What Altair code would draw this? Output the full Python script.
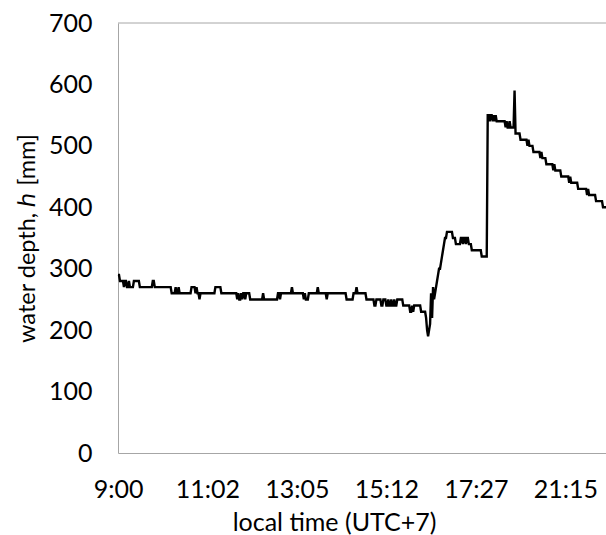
import altair as alt
import pandas as pd

# Category axis: samples are equally spaced, labelled every 90 samples
tick_idx = [0, 90, 180, 270, 360, 450]
tick_time = ["9:00", "11:02", "13:05", "15:12", "17:27", "21:15"]
last_idx = 491

# Sample index at which the logged depth changes, and the new depth [mm]
change_idx = [
    0, 2, 6, 7, 9, 11, 12, 16, 22, 35, 37, 54, 58, 59, 61, 62, 74, 78, 79, 80,
    82, 83, 98, 104, 120, 121, 122, 124, 125, 126, 128, 129, 133, 146, 147,
    161, 163, 164, 175, 176, 187, 188, 189, 192, 201, 202, 210, 211, 230, 237,
    240, 241, 250, 258, 260, 265, 267, 270, 272, 273, 275, 276, 278, 279, 281,
    287, 294, 296, 297, 298, 305, 310, 311, 312, 313, 314, 315, 316, 317, 318,
    319, 320, 321, 322, 323, 325, 326, 327, 328, 329, 331, 337, 340, 345, 347,
    348, 350, 351, 353, 356, 366, 372, 374, 375, 377, 378, 379, 380, 381, 390,
    391, 392, 394, 395, 399, 400, 405, 412, 413, 414, 418, 425, 426, 427, 431,
    438, 439, 440, 446, 454, 455, 456, 463, 472, 473, 474, 481, 488,
]
depth_mm = [
    290, 280, 270, 280, 270, 280, 270, 280, 270, 280, 270, 260, 270, 260, 270,
    260, 270, 260, 270, 260, 250, 260, 270, 260, 250, 260, 250, 260, 250, 260,
    250, 260, 250, 260, 250, 260, 250, 260, 270, 260, 250, 260, 250, 260, 270,
    260, 250, 260, 250, 260, 270, 260, 250, 240, 250, 240, 250, 240, 250, 240,
    250, 240, 250, 240, 250, 240, 230, 240, 230, 240, 230, 220, 200, 190, 200,
    210, 260, 220, 270, 250, 260, 270, 280, 290, 300, 310, 320, 330, 340, 350,
    360, 350, 340, 350, 340, 350, 340, 350, 340, 330, 320, 550, 540, 550, 540,
    550, 540, 550, 540, 530, 540, 530, 540, 530, 590, 520, 510, 500, 510, 500,
    490, 480, 490, 480, 470, 460, 470, 460, 450, 440, 450, 440, 430, 420, 430,
    420, 410, 400,
]

# Expand the change points into one value per sample
samples, depths = [], []
k = 0
for i in range(last_idx + 1):
    while k + 1 < len(change_idx) and change_idx[k + 1] <= i:
        k += 1
    samples.append(i)
    depths.append(depth_mm[k])
df = pd.DataFrame({"sample": samples, "depth": depths})

label_expr = "[{}][indexof([{}], datum.value)]".format(
    ",".join("'{}'".format(t) for t in tick_time),
    ",".join(str(t) for t in tick_idx),
)

font = "Lato"
axis_grey = "#a6a6a6"

x_enc = alt.X(
    "sample:Q",
    scale=alt.Scale(domain=[0, last_idx], nice=False, zero=False),
    axis=alt.Axis(
        values=tick_idx,
        labelExpr=label_expr,
        labelFlush=False,
        labelBaseline="alphabetic",
        labelPadding=44,
        grid=False,
        ticks=False,
        tickSize=0,
        domainColor=axis_grey,
        title="local time (UTC+7)",
        titleFontSize=25,
        titleX=216,
        titleY=77,
        titleBaseline="alphabetic",
    ),
)
y_enc = alt.Y(
    "depth:Q",
    scale=alt.Scale(domain=[0, 700], nice=False),
    axis=alt.Axis(
        values=list(range(0, 701, 100)),
        labelPadding=26,
        grid=False,
        ticks=False,
        tickSize=0,
        domainColor=axis_grey,
        title="water depth, ℎ [mm]",
        titleFontSize=23.5,
        titleAngle=270,
        titleX=-84,
        titleY=215,
        titleAlign="center",
        titleBaseline="alphabetic",
    ),
)

line = alt.Chart(df).mark_line(
    color="black", strokeWidth=2.4, interpolate="linear"
).encode(x=x_enc, y=y_enc)

# Upper frame edge of the plot area
frame_top = alt.Chart(pd.DataFrame({"depth": [700]})).mark_rule(
    color=axis_grey, strokeWidth=1
).encode(y="depth:Q")

chart = (
    alt.layer(line, frame_top)
    .properties(
        width=488,
        height=430,
        padding={"left": 118, "top": 23, "right": 0, "bottom": 82},
        autosize=alt.AutoSizeParams(type="none"),
        background="white",
    )
    .configure_view(stroke=None)
    .configure_axis(
        labelFont=font,
        labelFontSize=25,
        labelColor="#000000",
        titleFont=font,
        titleFontWeight="normal",
        titleColor="#000000",
        domainWidth=1,
    )
)

chart.save("out.html", embed_options={"renderer": "svg", "actions": False})
